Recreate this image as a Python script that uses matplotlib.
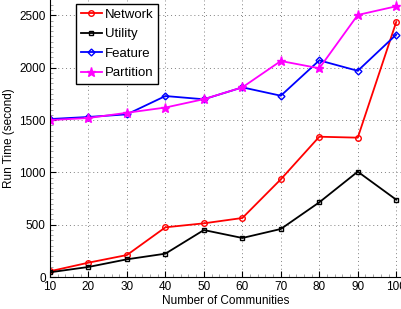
import matplotlib
matplotlib.use("Agg")
import matplotlib.pyplot as plt
from matplotlib.ticker import MultipleLocator

plt.rcParams['font.family'] = ['Liberation Sans', 'DejaVu Sans']

communities = [10, 20, 30, 40, 50, 60, 70, 80, 90, 100]
network = [55, 137, 210, 475, 513, 564, 934, 1341, 1332, 2438]
utility = [45, 96, 169, 223, 449, 373, 459, 714, 1007, 739]
feature = [1510, 1530, 1555, 1730, 1699, 1813, 1733, 2071, 1971, 2317]
partition = [1500, 1520, 1570, 1620, 1700, 1813, 2065, 1995, 2505, 2588]

xticks = [10, 20, 30, 40, 50, 60, 70, 80, 90, 100]
yticks = [0, 500, 1000, 1500, 2000, 2500]

fig = plt.figure(figsize=(4.02, 3.09), dpi=100)
ax = fig.add_axes([50/402, 1 - 277/309, 352/402, 277/309])

ms = 4.0
ax.plot(communities, network, color='red', marker='o', ms=ms, mfc='none', mew=1.0, lw=1.3, label='Network')
ax.plot(communities, utility, color='black', marker='s', ms=ms - 0.5, mfc='none', mew=1.0, lw=1.3, label='Utility')
ax.plot(communities, feature, color='blue', marker='D', ms=ms - 0.5, mfc='none', mew=1.0, lw=1.3, label='Feature')
ax.plot(communities, partition, color='magenta', marker='*', ms=ms + 2.5, mew=1.0, lw=1.3, label='Partition')

ax.set_xlim(10, 101.5)
ax.set_ylim(0, 2648)
ax.set_xticks(xticks)
ax.set_yticks(yticks)
ax.xaxis.set_minor_locator(MultipleLocator(2))
ax.yaxis.set_minor_locator(MultipleLocator(50))
ax.tick_params(which='major', direction='in', length=4, width=0.8, labelsize=8.5, pad=3)
ax.tick_params(which='minor', direction='in', length=2, width=0.5, color='gray')
ax.spines['top'].set_visible(False)
ax.spines['right'].set_visible(False)
ax.grid(True, which='major', linestyle=(0, (1, 3)), color='gray', lw=0.7)

ax.set_xlabel('Number of Communities', fontsize=8.5, labelpad=1)
ax.set_ylabel('Run Time (second)', fontsize=8.5, labelpad=3)

leg = ax.legend(loc='upper left', bbox_to_anchor=(26/352, 1 - 4/277), fontsize=9.5,
                frameon=True, fancybox=False, edgecolor='black', framealpha=1,
                handlelength=1.6, borderpad=0.35, labelspacing=0.55, handletextpad=0.25,
                borderaxespad=0)
leg.get_frame().set_linewidth(1.0)

fig.savefig('out.png', dpi=100)
